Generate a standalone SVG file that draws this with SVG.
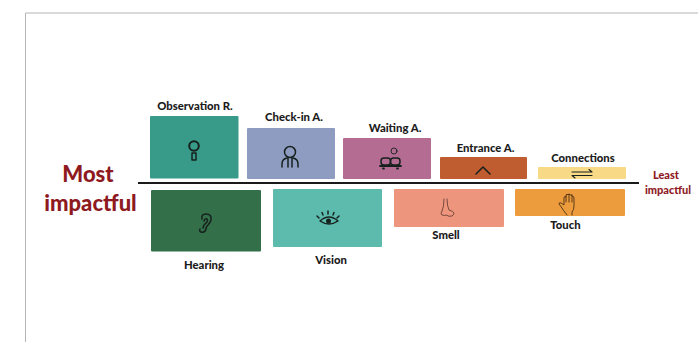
<svg xmlns="http://www.w3.org/2000/svg" width="698" height="342" viewBox="0 0 698 342">
<style>
text{font-family:Lato,"Liberation Sans",sans-serif;font-weight:900;text-anchor:middle}
.l{font-size:11.300px;fill:#1c1c1c}
.r{fill:#8e1a1f}
.i{fill:none;stroke:#16201d;stroke-width:1.500;stroke-linecap:round;stroke-linejoin:round}
</style>
<rect width="698" height="342" fill="#fff"/>
<path d="M25.500 342V13H698" fill="none" stroke="#b5b5b5" stroke-width="1"/>
<g id="connectors"><path d="M138 183H639" stroke="#1a1a1a" stroke-width="2" fill="none"/></g>
<g id="most"><text class="r" x="88" y="182" font-size="22">Most</text><text class="r" x="90.500" y="211" font-size="22">impactful</text></g>
<g id="least"><text class="r" x="666" y="179" font-size="11">Least</text><text class="r" x="668" y="194" font-size="11">impactful</text></g>
<g id="observation"><rect x="150" y="116" width="88.500" height="62.500" rx="1" fill="#389a88"/><text class="l" x="195" y="110">Observation R.</text>
<circle class="i" cx="194" cy="146" r="4.800" style="stroke-width:2"/><rect class="i" x="192" y="153" width="4" height="7"/></g>
<g id="checkin"><rect x="247" y="128" width="88" height="51" rx="1" fill="#8e9cc1"/><text class="l" x="294" y="121">Check-in A.</text>
<circle class="i" cx="290" cy="152" r="5.500"/><path class="i" d="M282 167v-3q0-5 5-6M298 167v-3q0-5-5-6M288 158v9M292 158v9"/></g>
<g id="waiting"><rect x="343" y="138" width="88" height="41" rx="1" fill="#b46c92"/><text class="l" x="395" y="132">Waiting A.</text>
<circle class="i" cx="394" cy="151" r="3" style="stroke-width:.9"/><path class="i" d="M380 166h21M383 168.500h1M397 168.500h1" style="stroke-width:1.800"/><rect class="i" x="381" y="158" width="9.500" height="7" rx="3"/><rect class="i" x="390.500" y="158" width="9.500" height="7" rx="3"/></g>
<g id="entrance"><rect x="440" y="157" width="87" height="22" rx="1" fill="#bf5c30"/><text class="l" x="485.500" y="152">Entrance A.</text>
<path class="i" d="M476 174l7-7 7 7"/></g>
<g id="connections"><rect x="538" y="167" width="88" height="12" rx="1" fill="#f8d986"/><text class="l" x="583" y="162">Connections</text>
<path class="i" style="stroke-width:1.100" d="M572 172h20l-3-2.500M592 175.500h-20l3 2.500"/></g>
<g id="hearing"><rect x="151" y="190" width="110" height="61.500" rx="1" fill="#336f48"/><text class="l" x="204" y="269">Hearing</text>
<path class="i" d="M202 219q-1-5 4-5 6 0 5 6-1 3-3 5t-2 4q-1 4-5 3-2-1-1-3M204 221q1-3 3-2 1 1 0 3l-3 3-1 3"/></g>
<g id="vision"><rect x="273" y="189" width="109" height="58" rx="1" fill="#5dbbae"/><text class="l" x="331" y="264">Vision</text>
<path class="i" d="M320 221q9-8 18 0q-9 6-18 0zM319 218l-2-2M323 215l-1-2.500M328 214v-3M333 215l1-2.500M337 218l2-2"/><circle cx="328.500" cy="221" r="2.500" fill="#16201d"/></g>
<g id="smell"><rect x="394" y="189" width="110" height="38" rx="1" fill="#ee957d"/><text class="l" x="446" y="239">Smell</text>
<path class="i" d="M444 199q0 8-2 12-2 3 0 4 3 1 4 0 3 2 6 1 2-1 2-3-1-2-5-3-2-4-2-11" style="stroke:#6b3f35;stroke-width:.9"/></g>
<g id="touch"><rect x="515" y="189" width="110" height="27" rx="1" fill="#ec9b3d"/><text class="l" x="565.500" y="229">Touch</text>
<path class="i" style="stroke:#5c3b16;stroke-width:1" d="M567 215q-4-5-5-7l-3-4q0-2 2-1l3 2v-7q0-2 2-1v-2q1-2 2 0 1-2 2 0 2-1 2 1 2 0 2 2v8q0 4-2 6v3M566 196v6M569 194v8M572 195v7"/></g>
</svg>
